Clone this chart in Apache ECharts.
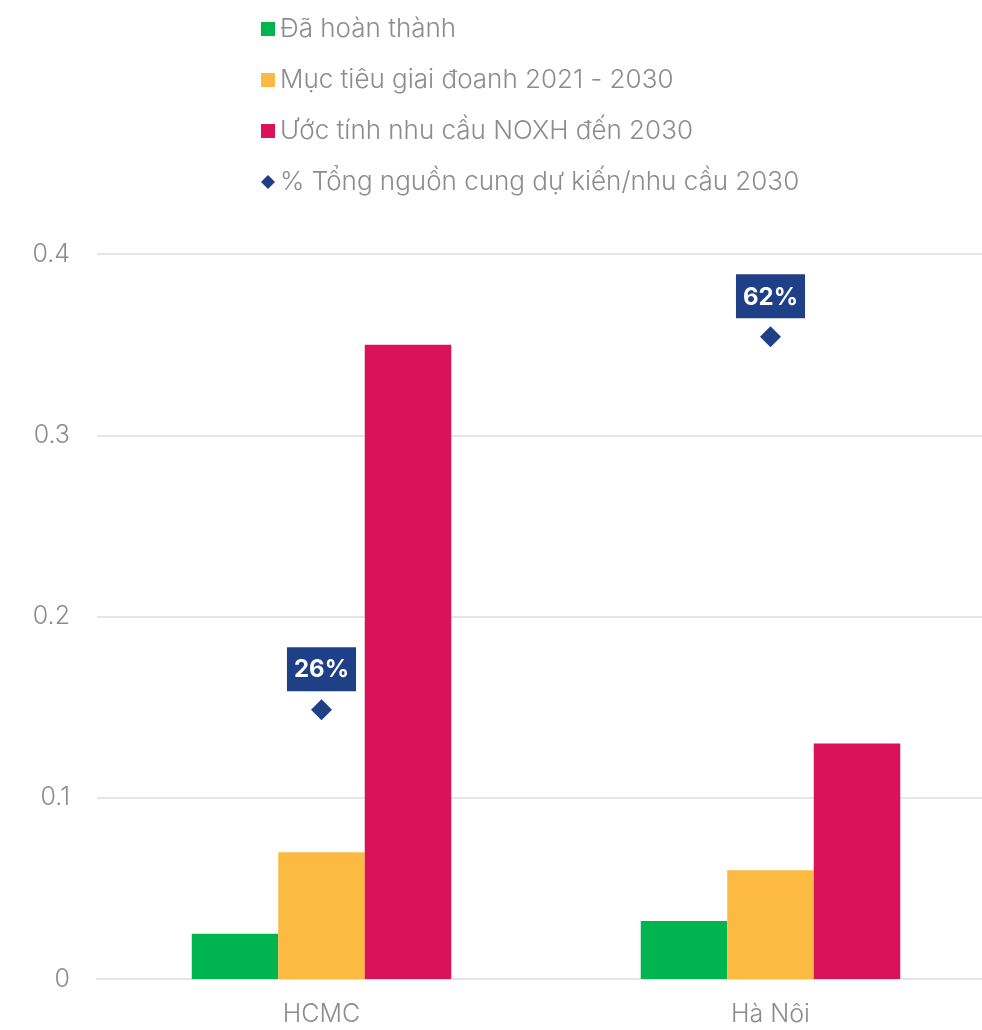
<!DOCTYPE html>
<html><head><meta charset="utf-8">
<script src="https://cdn.jsdelivr.net/npm/echarts@6/dist/echarts.min.js"></script>
<style>html,body{margin:0;padding:0;background:#fff}#c{width:982px;height:1030px}</style>
</head><body><div id="c"></div>
<script>
const categories = ['HCMC', 'Hà Nôi'];
const seriesNames = ['Đã hoàn thành', 'Mục tiêu giai đoanh 2021 - 2030', 'Ước tính nhu cầu NOXH đến 2030', '% Tổng nguồn cung dự kiến/nhu cầu 2030'];
const completed = [0.025, 0.032];
const target = [0.070, 0.060];
const demand = [0.350, 0.130];
const ratio = [0.26, 0.62];
const yTicks = [0, 0.1, 0.2, 0.3, 0.4];

const FONT = 'Inter, Lato, sans-serif';
const GRAY = '#8c8c8c';
const chart = echarts.init(document.getElementById('c'));
chart.setOption({
  animation: false,
  textStyle: { fontFamily: FONT },
  legend: {
    orient: 'vertical', left: 256, top: 11,
    itemWidth: 14, itemHeight: 14, itemGap: 25,
    textStyle: { fontSize: 26, color: GRAY, fontFamily: FONT, fontWeight: 300 },
    data: [
      { name: seriesNames[0], icon: 'rect' },
      { name: seriesNames[1], icon: 'rect' },
      { name: seriesNames[2], icon: 'rect' },
      { name: seriesNames[3], icon: 'diamond' }
    ]
  },
  grid: { left: 97, top: 254, width: 898, height: 725, outerBoundsMode: 'none' },
  xAxis: {
    type: 'category', data: categories,
    axisLine: { lineStyle: { color: '#e6e6e6', width: 2 } },
    axisTick: { show: false },
    axisLabel: { fontSize: 25, color: GRAY, margin: 23, fontWeight: 300 }
  },
  yAxis: [{
    type: 'value', min: yTicks[0], max: yTicks[yTicks.length - 1], interval: 0.1,
    axisLine: { show: false }, axisTick: { show: false },
    splitLine: { lineStyle: { color: '#e6e6e6', width: 2 } },
    axisLabel: { fontSize: 25, color: GRAY, margin: 27, fontWeight: 300, formatter: v => String(Math.round(v * 10) / 10) }
  }, {
    type: 'value', min: 0, max: 0.7, show: false
  }],
  series: [
    { name: seriesNames[0], type: 'bar', data: completed, barWidth: 86.5, barGap: '0%', itemStyle: { color: '#00b44f' } },
    { name: seriesNames[1], type: 'bar', data: target, barWidth: 86.5, barGap: '0%', itemStyle: { color: '#fdba43' } },
    { name: seriesNames[2], type: 'bar', data: demand, barWidth: 86.5, barGap: '0%', itemStyle: { color: '#d91259' } },
    { name: seriesNames[3], type: 'scatter', yAxisIndex: 1, data: ratio, symbol: 'diamond', symbolSize: [21, 21],
      itemStyle: { color: '#1f3f87', opacity: 1 },
      label: { show: true, position: 'top', distance: 8, formatter: p => Math.round(p.value * 100) + '%',
        backgroundColor: '#1f3f87', color: '#fff', fontWeight: 'bold', fontSize: 24, padding: [11, 7, 9, 7], fontFamily: FONT }
    }
  ]
});
</script></body></html>
